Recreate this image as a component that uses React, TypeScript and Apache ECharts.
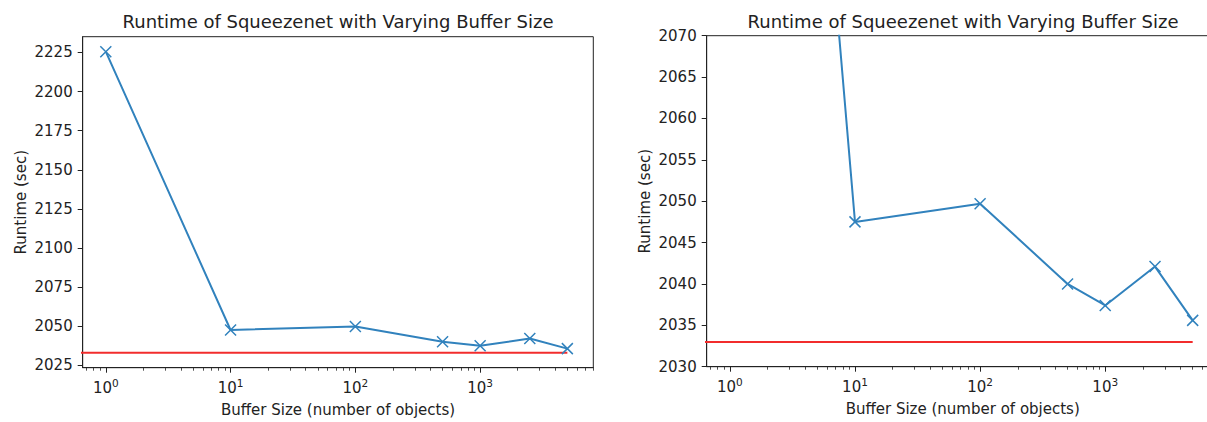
import React, { useEffect, useRef } from 'react';
import * as echarts from 'echarts';

// ---- data ----
const bufferSizes = [1, 10, 100, 500, 1000, 2500, 5000];
const runtimes = [2225.5, 2047.5, 2049.7, 2040.0, 2037.4, 2042.1, 2035.6];
const baselineRuntime = 2033;
const baselineXRange = [0.5, 5000];
const majorXTicks = [1, 10, 100, 1000];
const minorXTicks = [
  0.7, 0.8, 0.9,
  2, 3, 4, 5, 6, 7, 8, 9,
  20, 30, 40, 50, 60, 70, 80, 90,
  200, 300, 400, 500, 600, 700, 800, 900,
  2000, 3000, 4000, 5000, 6000, 7000, 8000,
];
const leftYTicks = [2025, 2050, 2075, 2100, 2125, 2150, 2175, 2200, 2225];
const leftYRange = [2023.4, 2235.1];
const rightYRange = [2030, 2070];
const rightYStep = 5;
const xRange = [0.653, 8070];
const titleText = 'Runtime of Squeezenet with Varying Buffer Size';
const xName = 'Buffer Size (number of objects)';
const yName = 'Runtime (sec)';

// ---- styles ----
const FONT = 'DejaVu Sans';
const TEXT = '#222';
const AXIS = '#222';
const BLUE = '#3182bd';
const RED = '#f22c2c';
const X_MARK = 'path://M0 0L10 10M10 0L0 10';

const grids = [
  { left: 82.7, top: 36.7, width: 510.6, height: 331 },
  { left: 706.7, top: 35.7, width: 512, height: 331 },
];

function majorX(gridIndex: number) {
  return {
    type: 'log',
    gridIndex,
    position: 'bottom',
    min: xRange[0],
    max: xRange[1],
    name: xName,
    nameLocation: 'middle',
    nameGap: 35,
    nameTextStyle: { fontFamily: FONT, fontSize: 15, color: TEXT },
    axisLine: { show: true, onZero: false, lineStyle: { color: AXIS, width: 1 } },
    axisTick: { show: true, length: 5, customValues: majorXTicks, lineStyle: { color: AXIS, width: 1 } },
    axisLabel: {
      show: true,
      margin: 10,
      customValues: majorXTicks,
      formatter: (v: number) => `{n|10}{s|${Math.round(Math.log10(v))}}`,
      rich: {
        n: { fontFamily: FONT, fontSize: 15, color: TEXT, lineHeight: 18, verticalAlign: 'bottom' },
        s: { fontFamily: FONT, fontSize: 10.5, color: TEXT, lineHeight: 11, verticalAlign: 'top' },
      },
    },
    splitLine: { show: false },
    minorTick: { show: false },
  };
}

function minorX(gridIndex: number) {
  return {
    type: 'log',
    gridIndex,
    position: 'bottom',
    min: xRange[0],
    max: xRange[1],
    axisLine: { show: false, onZero: false },
    axisTick: { show: true, length: 3, customValues: minorXTicks, lineStyle: { color: AXIS, width: 0.8 } },
    axisLabel: { show: false },
    splitLine: { show: false },
  };
}

const yCommon = {
  type: 'value',
  position: 'left',
  name: yName,
  nameLocation: 'middle',
  nameGap: 54,
  nameTextStyle: { fontFamily: FONT, fontSize: 15, color: TEXT },
  axisLine: { show: true, onZero: false, lineStyle: { color: AXIS, width: 1 } },
  splitLine: { show: false },
};

const plainNumber = (v: number) => String(v);

function lineSeries(xAxisIndex: number, yAxisIndex: number) {
  return [
    {
      type: 'line',
      xAxisIndex,
      yAxisIndex,
      data: bufferSizes.map((b, i) => [b, runtimes[i]]),
      symbol: X_MARK,
      symbolSize: 11,
      showSymbol: true,
      clip: true,
      lineStyle: { color: BLUE, width: 2 },
      itemStyle: { color: BLUE, borderColor: BLUE, borderWidth: 1.5 },
      emphasis: { disabled: true },
      z: 3,
    },
    {
      type: 'line',
      xAxisIndex,
      yAxisIndex,
      data: baselineXRange.map((x) => [x, baselineRuntime]),
      symbol: 'none',
      clip: true,
      lineStyle: { color: RED, width: 2 },
      emphasis: { disabled: true },
      z: 2,
    },
  ];
}

const option = {
  animation: false,
  backgroundColor: '#fff',
  title: [
    {
      text: titleText,
      left: grids[0].left + grids[0].width / 2,
      top: 12,
      padding: 0,
      textAlign: 'center',
      textStyle: { fontFamily: FONT, fontSize: 18, fontWeight: 'normal', color: TEXT },
    },
    {
      text: titleText,
      left: 963,
      top: 12,
      padding: 0,
      textAlign: 'center',
      textStyle: { fontFamily: FONT, fontSize: 18, fontWeight: 'normal', color: TEXT },
    },
  ],
  grid: grids.map((g) => ({
    ...g,
    show: true,
    borderColor: AXIS,
    borderWidth: 1,
    backgroundColor: 'transparent',
    containLabel: false,
    outerBoundsMode: 'none',
  })),
  xAxis: [majorX(0), minorX(0), majorX(1), minorX(1)],
  yAxis: [
    {
      ...yCommon,
      gridIndex: 0,
      min: leftYRange[0],
      max: leftYRange[1],
      axisTick: { show: true, length: 5, customValues: leftYTicks, lineStyle: { color: AXIS, width: 1 } },
      axisLabel: { margin: 10, customValues: leftYTicks, formatter: plainNumber, fontFamily: FONT, fontSize: 15, color: TEXT },
    },
    {
      ...yCommon,
      gridIndex: 1,
      min: rightYRange[0],
      max: rightYRange[1],
      interval: rightYStep,
      axisTick: { show: true, length: 5, lineStyle: { color: AXIS, width: 1 } },
      axisLabel: { margin: 10, formatter: plainNumber, fontFamily: FONT, fontSize: 15, color: TEXT },
    },
  ],
  series: [...lineSeries(0, 0), ...lineSeries(2, 1)],
};

export default function App() {
  const ref = useRef<HTMLDivElement>(null);
  useEffect(() => {
    const chart = echarts.init(ref.current!, null, { renderer: 'svg' });
    chart.setOption(option as any);
    return () => chart.dispose();
  }, []);
  return (
    <div
      ref={ref}
      style={{ position: 'absolute', left: 0, top: 0, width: 1207, height: 422, background: '#fff' }}
    />
  );
}
